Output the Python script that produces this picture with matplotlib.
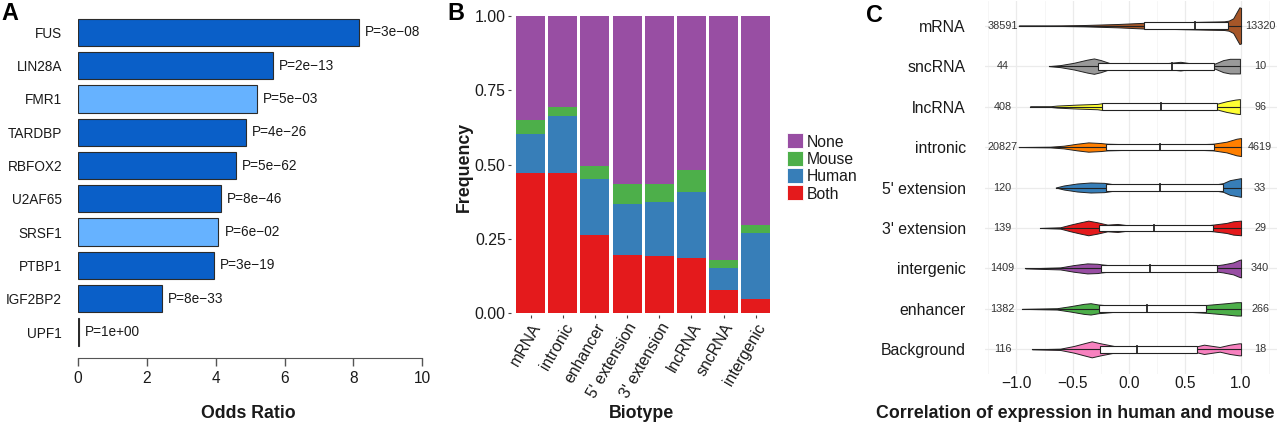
import matplotlib.pyplot as plt
import numpy as np
from matplotlib.patches import Rectangle

plt.rcParams['font.family'] = ['Liberation Sans', 'DejaVu Sans']

# ---- panel A: odds ratio per RBP
rbp_names = ["FUS", "LIN28A", "FMR1", "TARDBP", "RBFOX2",
             "U2AF65", "SRSF1", "PTBP1", "IGF2BP2", "UPF1"]
odds_ratio = [8.16, 5.65, 5.20, 4.87, 4.58, 4.14, 4.08, 3.94, 2.43, 0.02]
p_labels = ["P=3e\u221208", "P=2e\u221213", "P=5e\u221203", "P=4e\u221226", "P=5e\u221262",
            "P=8e\u221246", "P=6e\u221202", "P=3e\u221219", "P=8e\u221233", "P=1e+00"]
rbp_significant = [True, True, False, True, True, True, False, True, True, True]

# ---- panel B: conservation frequency per biotype
biotypes_b = ["mRNA", "intronic", "enhancer", "5' extension",
              "3' extension", "lncRNA", "sncRNA", "intergenic"]
freq_both = [0.471, 0.471, 0.262, 0.197, 0.194, 0.186, 0.077, 0.049]
freq_human = [0.131, 0.193, 0.190, 0.171, 0.180, 0.223, 0.074, 0.220]
freq_mouse = [0.048, 0.031, 0.042, 0.066, 0.062, 0.072, 0.027, 0.029]
freq_none = [0.350, 0.305, 0.506, 0.566, 0.564, 0.519, 0.822, 0.702]
group_names = ["None", "Mouse", "Human", "Both"]
group_colors = ["#984EA3", "#4DAF4A", "#377EB8", "#E41A1C"]

# ---- panel C: correlation violins
biotypes_c = ["mRNA", "sncRNA", "lncRNA", "intronic", "5' extension",
              "3' extension", "intergenic", "enhancer", "Background"]
violin_colors = ["#A65628", "#999999", "#FFFF33", "#FF7F00", "#377EB8",
                 "#E41A1C", "#984EA3", "#4DAF4A", "#F781BF"]
n_left = [38591, 44, 408, 20827, 120, 139, 1409, 1382, 116]
n_right = [13320, 10, 96, 4619, 33, 29, 340, 266, 18]
box_q1 = [0.133, -0.275, -0.240, -0.200, -0.207, -0.262, -0.243, -0.264, -0.256]
box_median = [0.590, 0.385, 0.287, 0.277, 0.274, 0.222, 0.188, 0.160, 0.074]
box_q3 = [0.888, 0.760, 0.790, 0.755, 0.843, 0.746, 0.787, 0.688, 0.612]
# violin outline: x positions and half widths (in row units)
violin_x = [
    [-0.98, -0.70, -0.40, -0.10, 0.13, 0.40, 0.70, 0.85, 0.89, 0.93, 0.96, 0.985, 1.00],
    [-0.71, -0.61, -0.49, -0.37, -0.31, -0.25, -0.16, -0.01, 0.10, 0.28, 0.46, 0.58, 0.70, 0.77, 0.84, 0.90, 0.99],
    [-0.88, -0.70, -0.64, -0.46, -0.28, -0.24, -0.16, 0.04, 0.28, 0.52, 0.75, 0.80, 0.87, 0.95, 0.99],
    [-0.98, -0.70, -0.58, -0.46, -0.36, -0.25, -0.19, 0.04, 0.28, 0.52, 0.75, 0.87, 0.96, 1.00],
    [-0.65, -0.58, -0.46, -0.34, -0.22, -0.10, 0.13, 0.25, 0.49, 0.75, 0.84, 0.90, 0.98, 1.00],
    [-0.79, -0.61, -0.52, -0.43, -0.36, -0.28, -0.19, -0.10, 0.04, 0.22, 0.40, 0.64, 0.75, 0.87, 0.93, 1.00],
    [-0.92, -0.61, -0.49, -0.37, -0.28, -0.24, -0.10, 0.19, 0.52, 0.75, 0.84, 0.93, 0.98, 1.00],
    [-0.95, -0.64, -0.52, -0.40, -0.34, -0.27, -0.13, 0.16, 0.49, 0.70, 0.87, 0.96, 1.00],
    [-0.86, -0.61, -0.49, -0.40, -0.33, -0.25, -0.13, 0.04, 0.34, 0.58, 0.67, 0.75, 0.81, 0.90, 0.98, 1.00],
]
violin_hw = [
    [0, .004, .016, .041, .070, .082, .099, .107, .124, .181, .330, .453, .440],
    [0, .025, .082, .160, .190, .150, .066, .041, .033, .058, .107, .058, .033, .066, .148, .181, .181],
    [0, .008, .025, .049, .066, .082, .041, .033, .025, .033, .049, .082, .132, .173, .185],
    [0, .008, .033, .082, .115, .099, .082, .066, .049, .058, .082, .132, .206, .222],
    [0, .049, .099, .124, .115, .066, .082, .049, .058, .066, .107, .181, .222, .231],
    [0, .016, .082, .140, .181, .140, .082, .099, .049, .049, .074, .049, .082, .124, .165, .181],
    [0, .025, .082, .124, .115, .099, .058, .041, .049, .066, .099, .148, .206, .222],
    [0, .016, .066, .124, .140, .107, .074, .049, .066, .099, .140, .165, .165],
    [0, .016, .082, .148, .198, .148, .082, .058, .041, .058, .115, .082, .058, .115, .148, .148],
]

W, H = 1280, 424


def fx(px):
    return px / W


def fy(py):
    return 1 - py / H


def axes_box(left, top, right, bottom):
    return [fx(left), fy(bottom), (right - left) / W, (bottom - top) / H]


fig = plt.figure(figsize=(12.8, 4.24), dpi=100)
ink = "#1a1a1a"

# ===================== A
axA = fig.add_axes(axes_box(78, 14, 422.3, 357.7))
ypos = np.arange(len(rbp_names))
colors_a = ["#0A5FC8" if s else "#66B2FF" for s in rbp_significant]
axA.barh(ypos, odds_ratio, height=0.82, color=colors_a, edgecolor="#2b2b2b", linewidth=0.8)
for y, v, p in zip(ypos, odds_ratio, p_labels):
    axA.annotate(p, xy=(v, y), xytext=(4.5, 0), textcoords="offset points",
                 va="center", ha="left", fontsize=9.8, color=ink)
axA.set_xlim(0, 10)
axA.set_ylim(9.77, -0.55)
axA.set_xticks(range(0, 11, 2))
axA.set_yticks(ypos, rbp_names)
axA.tick_params(axis="y", length=0, pad=11.5, labelsize=9.8, labelcolor=ink)
axA.tick_params(axis="x", length=5.8, width=1, color="#555555", pad=4,
                labelsize=11.2, labelcolor=ink)
for s in ["top", "right", "left"]:
    axA.spines[s].set_visible(False)
axA.spines["bottom"].set_color("#555555")
fig.text(fx(248), fy(418.5), "Odds Ratio", ha="center", va="baseline",
         fontsize=12.8, fontweight="bold", color=ink)

# ===================== B
axB = fig.add_axes(axes_box(511.2, 14.3, 775.2, 315))
xb = np.arange(len(biotypes_b))
bottoms = np.zeros(len(biotypes_b))
for vals, col in zip([freq_both, freq_human, freq_mouse, freq_none], group_colors[::-1]):
    axB.bar(xb, vals, bottom=bottoms, width=0.9, color=col, linewidth=0)
    bottoms += np.array(vals)
axB.set_xlim(-0.6, 7.6)
axB.set_ylim(-0.006, 1.006)
axB.set_yticks([0, 0.25, 0.5, 0.75, 1.0], ["0.00", "0.25", "0.50", "0.75", "1.00"])
axB.set_xticks(xb)
axB.set_xticklabels(biotypes_b, rotation=60, ha="right", va="top", rotation_mode="anchor")
axB.tick_params(length=2.5, width=0.8, color="#444444", pad=1.5, labelsize=11.4, labelcolor=ink)
for s in axB.spines.values():
    s.set_visible(False)
fig.text(fx(464.5), fy(166.7), "Frequency", rotation=90, ha="center", va="center",
         fontsize=12.8, fontweight="bold", color=ink)
fig.text(fx(642), fy(418.5), "Biotype", ha="center", va="baseline",
         fontsize=12.8, fontweight="bold", color=ink)

# legend of B
key_tops = [133.3, 150.5, 167.7, 185.0]
for name, col, top in zip(group_names, group_colors, key_tops):
    fig.add_artist(Rectangle((fx(787.3), fy(top + 15)), 15.4 / W, 15 / H,
                             transform=fig.transFigure, facecolor=col, edgecolor="white",
                             linewidth=0.6))
    fig.text(fx(806.7), fy(top + 7.5), name, ha="left", va="center_baseline",
             fontsize=11.3, color=ink)

# ===================== C
axC = fig.add_axes(axes_box(985, 1.4, 1277, 373.6))
axC.set_xlim(-1.28, 1.32)
axC.set_ylim(len(biotypes_c) - 0.4, -0.6)
for gx in [-1.25, -0.75, -0.25, 0.25, 0.75, 1.25]:
    axC.axvline(gx, color="#F3F3F3", lw=0.5, zorder=0)
for gx in [-1.0, -0.5, 0.0, 0.5, 1.0]:
    axC.axvline(gx, color="#EBEBEB", lw=0.9, zorder=0)
for i in range(len(biotypes_c)):
    axC.axhline(i, color="#EBEBEB", lw=0.9, zorder=0)

box_half = 0.085
for i in range(len(biotypes_c)):
    vx = np.array(violin_x[i])
    hw = np.array(violin_hw[i])
    axC.fill_between(vx, i - hw, i + hw, facecolor=violin_colors[i],
                     edgecolor="#222222", linewidth=0.7, zorder=2)
    axC.plot([vx[0], vx[-1]], [i, i], color="#222222", lw=0.8, zorder=3)
    axC.add_patch(Rectangle((box_q1[i], i - box_half), box_q3[i] - box_q1[i], 2 * box_half,
                            facecolor="white", edgecolor="#222222", linewidth=0.8, zorder=4))
    axC.plot([box_median[i], box_median[i]], [i - box_half, i + box_half],
             color="#222222", lw=1.3, zorder=5)
    axC.text(-1.124, i, str(n_left[i]), ha="center", va="center", fontsize=7.8, color="#333333")
    axC.text(1.169, i, str(n_right[i]), ha="center", va="center", fontsize=7.8, color="#333333")

axC.set_yticks(range(len(biotypes_c)), biotypes_c)
axC.set_xticks([-1.0, -0.5, 0.0, 0.5, 1.0], ["\u22121.0", "\u22120.5", "0.0", "0.5", "1.0"])
axC.tick_params(axis="y", length=0, pad=13.7, labelsize=11.4, labelcolor=ink)
axC.tick_params(axis="x", length=0, pad=2, labelsize=11.2, labelcolor=ink)
for s in axC.spines.values():
    s.set_visible(False)
fig.text(fx(1075), fy(418.5), "Correlation of expression in human and mouse",
         ha="center", va="baseline", fontsize=12.8, fontweight="bold", color=ink)

# panel letters
for letter, px, py in [("A", 1, 20), ("B", 447, 20), ("C", 866, 21.5)]:
    fig.text(fx(px), fy(py), letter, ha="left", va="baseline",
             fontsize=16.8, fontweight="bold", color="black")

fig.savefig("out.png", dpi=100)
